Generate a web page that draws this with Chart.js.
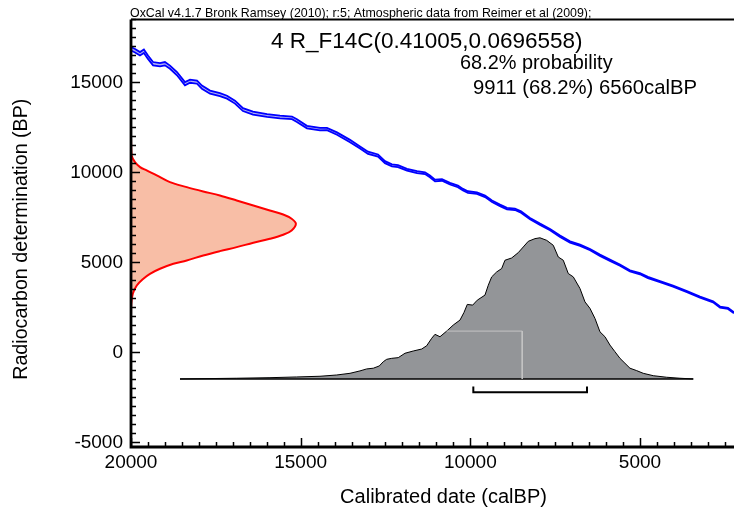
<!DOCTYPE html>
<html>
<head>
<meta charset="utf-8">
<script src="https://cdn.jsdelivr.net/npm/chart.js@4/dist/chart.umd.min.js"></script>
<style>
  html, body { margin: 0; padding: 0; overflow: hidden; background: #fff; }
  canvas { display: block; }
</style>
</head>
<body>
<canvas id="plot" width="756" height="513"></canvas>
<script>
// IntCal09 atmospheric calibration curve (calBP -> 14C BP, 1 sigma)
const curveCal = [20000, 19880, 19735, 19620, 19500, 19350, 19145, 19000, 18850, 18645,
  18410, 18260, 18055, 17910, 17670, 17380, 17170, 16935, 16700, 16405,
  15990, 15610, 15255, 15110, 14815, 14430, 14225, 13930, 13545, 13250,
  13015, 12720, 12515, 12310, 12130, 11865, 11570, 11335, 11190, 11040,
  10835, 10600, 10365, 10215, 10070, 9805, 9565, 9360, 9125, 8920,
  8685, 8505, 8240, 7945, 7650, 7355, 7060, 6765, 6470, 6180,
  5885, 5590, 5295, 5000, 4765, 4410, 4025, 3615, 3230, 2845,
  2640, 2405, 2230];
const curveBP = [16870, 16760, 16590, 16730, 16400, 16040, 15980, 16040, 15845, 15485,
  14930, 15070, 15015, 14735, 14460, 14320, 14180, 13905, 13490, 13295,
  13160, 13075, 13030, 12880, 12520, 12410, 12410, 12160, 11745, 11385,
  11090, 10940, 10570, 10390, 10350, 10150, 10015, 9960, 9780, 9555,
  9585, 9375, 9225, 9040, 8910, 8855, 8670, 8395, 8170, 7990,
  7950, 7800, 7435, 7120, 6825, 6455, 6140, 5955, 5715, 5400,
  5125, 4850, 4530, 4375, 4165, 3935, 3685, 3380, 3075, 2815,
  2520, 2450, 2205];
const curveSigma = [95, 95, 95, 95, 95, 92, 92, 92, 90, 90,
  90, 88, 88, 86, 84, 84, 82, 82, 80, 80,
  78, 76, 74, 74, 70, 70, 68, 66, 64, 62,
  60, 58, 56, 55, 54, 52, 52, 50, 50, 48,
  46, 46, 45, 44, 44, 42, 42, 41, 40, 40,
  39, 39, 38, 38, 37, 37, 36, 36, 35, 35,
  34, 34, 34, 33, 33, 32, 32, 32, 31, 31,
  30, 30, 30];

// Radiocarbon likelihood, R_F14C(0.41005, 0.0696558), relative probability by 14C age
const likelihoodBP = [11950, 10945, 10570, 10295, 10110, 9835, 9460, 9185, 8945, 8720,
  8445, 8165, 7890, 7665, 7430, 7150, 6780, 6540, 6315, 6095,
  5850, 5630, 5390, 5110, 4930, 4650, 4370, 4095, 3720, 3260,
  2720, 2000];
const likelihoodP = [0, 0.004, 0.024, 0.055, 0.095, 0.156, 0.236, 0.338, 0.438, 0.539,
  0.641, 0.742, 0.842, 0.923, 0.974, 1.0, 0.974, 0.923, 0.842, 0.742,
  0.641, 0.539, 0.438, 0.338, 0.257, 0.176, 0.115, 0.075, 0.035, 0.011,
  0.002, 0];

// Calibrated probability distribution (calBP, relative probability)
const posteriorCal = [18556, 16885, 15904, 15117, 14430, 13938, 13546, 13251, 13054, 12859,
  12683, 12565, 12465, 12317, 12123, 11925, 11681, 11433, 11286, 11138,
  11041, 10894, 10696, 10502, 10304, 10186, 10089, 9930, 9795, 9568,
  9470, 9370, 9223, 9076, 8978, 8781, 8586, 8439, 8292, 8094,
  7947, 7749, 7555, 7407, 7260, 7113, 6965, 6768, 6621, 6473,
  6326, 6179, 6031, 5884, 5737, 5589, 5442, 5294, 5097, 4903,
  4608, 4213, 3821, 3429];
const posteriorP = [0, 0.005, 0.009, 0.014, 0.019, 0.028, 0.040, 0.057, 0.071, 0.076,
  0.092, 0.122, 0.139, 0.146, 0.151, 0.182, 0.198, 0.212, 0.235, 0.288,
  0.316, 0.299, 0.339, 0.382, 0.417, 0.471, 0.528, 0.523, 0.558, 0.594,
  0.664, 0.723, 0.758, 0.782, 0.841, 0.857, 0.895, 0.935, 0.975, 0.994,
  1.0, 0.982, 0.947, 0.864, 0.841, 0.747, 0.723, 0.641, 0.546, 0.500,
  0.429, 0.334, 0.299, 0.240, 0.193, 0.146, 0.111, 0.076, 0.059, 0.040,
  0.023, 0.012, 0.005, 0];

// 68.2% highest probability range (calBP) and central marker
const rangeFrom = 9911;
const rangeTo = 6560;
const rangeProb = 68.2;
const markerCal = [10696, 8470, 8470];
const markerP = [0.339, 0.339, 0];

// Axis ticks
const xTickValues = [20000, 15000, 10000, 5000];
const yTickValues = [-5000, 0, 5000, 10000, 15000];
const minorStep = 500;

// Texts
const caption = 'OxCal v4.1.7 Bronk Ramsey (2010); r:5; Atmospheric data from Reimer et al (2009);';
const sampleName = '4 R_F14C(0.41005,0.0696558)';
const xTitle = 'Calibrated date (calBP)';
const yTitle = 'Radiocarbon determination (BP)';

// Axis ranges and where the two density plots sit on the main axes
const X_MIN = 1580, X_MAX = 20000;
const Y_MIN = -5250, Y_MAX = 18500;
const LIKE_PEAK_CAL = 15140;               // calBP reached by the likelihood peak
const POST_BASE_BP = -1470, POST_PEAK_BP = 6370; // BP levels of posterior baseline / peak

const FONT = '"Liberation Sans", Arial, Helvetica, sans-serif';

const pts = (xs, ys) => xs.map((v, i) => ({ x: v, y: ys[i] }));

const upper = curveCal.map((c, i) => ({ x: c, y: curveBP[i] + curveSigma[i] }));
const lower = curveCal.map((c, i) => ({ x: c, y: curveBP[i] - curveSigma[i] }));

const postSpan = POST_PEAK_BP - POST_BASE_BP;

const frame = {
  id: 'frame',
  afterDatasetsDraw(chart) {
    const { ctx, chartArea: a, scales: { x, y } } = chart;
    ctx.save();
    ctx.strokeStyle = '#000';
    ctx.lineWidth = 1.5;
    ctx.beginPath();
    for (let v = Math.ceil(x.min / minorStep) * minorStep; v <= x.max; v += minorStep) {
      const px = Math.round(x.getPixelForValue(v)) + 0.5;
      const len = xTickValues.includes(v) ? 9 : 5;
      ctx.moveTo(px, a.bottom); ctx.lineTo(px, a.bottom - len);
    }
    for (let v = Math.ceil(y.min / minorStep) * minorStep; v <= y.max; v += minorStep) {
      const py = Math.round(y.getPixelForValue(v)) + 0.5;
      const len = yTickValues.includes(v) ? 9 : 5;
      ctx.moveTo(a.left, py); ctx.lineTo(a.left + len, py);
    }
    ctx.stroke();
    ctx.lineWidth = 2.8;
    ctx.beginPath();
    ctx.moveTo(a.left, a.top); ctx.lineTo(a.left, a.bottom);
    ctx.moveTo(a.left - 1.4, a.bottom); ctx.lineTo(a.right, a.bottom);
    ctx.stroke();
    ctx.lineWidth = 2;
    ctx.beginPath();
    ctx.moveTo(a.left, a.top); ctx.lineTo(a.right, a.top);
    ctx.stroke();
    ctx.restore();
  }
};

const notes = {
  id: 'notes',
  afterDraw(chart) {
    const { ctx, chartArea: a } = chart;
    ctx.save();
    ctx.fillStyle = '#000';
    ctx.textAlign = 'left';
    ctx.textBaseline = 'alphabetic';
    ctx.font = '12.4px ' + FONT;
    ctx.fillText(caption, 130, 17);
    ctx.font = '22.5px ' + FONT;
    ctx.fillText(sampleName, 271, 48);
    ctx.font = '19.9px ' + FONT;
    ctx.fillText(rangeProb.toFixed(1) + '% probability', 460, 69);
    ctx.font = '20.3px ' + FONT;
    ctx.fillText(rangeFrom + ' (' + rangeProb.toFixed(1) + '%) ' + rangeTo + 'calBP', 473, 94);
    // vertical axis title
    ctx.translate(22, (a.top + a.bottom) / 2 + 6);
    ctx.rotate(-Math.PI / 2);
    ctx.textAlign = 'center';
    ctx.textBaseline = 'middle';
    ctx.font = '19.7px ' + FONT;
    ctx.fillText(yTitle, 0, 0);
    ctx.restore();
  }
};

new Chart(document.getElementById('plot'), {
  type: 'line',
  data: {
    datasets: [
      { // 68.2% range bracket
        data: [{ x: rangeFrom, y: -0.053 }, { x: rangeFrom, y: -0.095 }, { x: rangeTo, y: -0.095 }, { x: rangeTo, y: -0.053 }],
        xAxisID: 'x', yAxisID: 'yp', borderColor: '#000', borderWidth: 2, fill: false
      },
      { // central marker
        data: pts(markerCal, markerP),
        xAxisID: 'x', yAxisID: 'yp', borderColor: '#c4c4c4', borderWidth: 1, fill: false
      },
      { // posterior baseline
        data: [{ x: posteriorCal[0], y: 0 }, { x: posteriorCal[posteriorCal.length - 1], y: 0 }],
        xAxisID: 'x', yAxisID: 'yp', borderColor: '#000', borderWidth: 1.5, fill: false
      },
      { // calibrated distribution
        data: pts(posteriorCal, posteriorP),
        xAxisID: 'x', yAxisID: 'yp', borderColor: '#000', borderWidth: 1,
        backgroundColor: '#939598', fill: 'origin'
      },
      { // radiocarbon likelihood
        data: likelihoodBP.map((b, i) => ({ x: likelihoodP[i], y: b })),
        indexAxis: 'y', xAxisID: 'xl', yAxisID: 'y', tension: 0.35,
        borderColor: '#ff0000', borderWidth: 2, backgroundColor: '#f8bea6', fill: 'origin'
      },
      { // calibration curve, +1 sigma
        data: upper, xAxisID: 'x', yAxisID: 'y',
        borderColor: '#0000ff', borderWidth: 1.8, fill: false
      },
      { // calibration curve, -1 sigma
        data: lower, xAxisID: 'x', yAxisID: 'y',
        borderColor: '#0000ff', borderWidth: 1.8, backgroundColor: '#b0b0f2', fill: '-1'
      }
    ]
  },
  options: {
    responsive: false,
    animation: false,
    events: [],
    elements: { point: { radius: 0 }, line: { tension: 0 } },
    layout: { padding: { top: 19, right: 0, bottom: 0, left: 0 } },
    plugins: { legend: { display: false }, tooltip: { enabled: false } },
    scales: {
      x: {
        type: 'linear', reverse: true, min: X_MIN, max: X_MAX,
        afterBuildTicks: s => { s.ticks = xTickValues.map(v => ({ value: v })); },
        afterFit: s => { s.height = 66; },
        grid: { display: false, drawTicks: false },
        border: { display: false },
        ticks: { color: '#000', padding: 4, autoSkip: false, maxRotation: 0,
                 font: { family: FONT, size: 19 }, callback: v => String(v) },
        title: { display: true, text: xTitle, color: '#000',
                 font: { family: FONT, size: 20 }, padding: { top: 0, bottom: 4 } }
      },
      y: {
        type: 'linear', min: Y_MIN, max: Y_MAX,
        afterBuildTicks: s => { s.ticks = yTickValues.map(v => ({ value: v })); },
        afterFit: s => { s.width = 131; },
        grid: { display: false, drawTicks: false },
        border: { display: false },
        ticks: { color: '#000', padding: 8, autoSkip: false,
                 font: { family: FONT, size: 19 }, callback: v => String(v) }
      },
      xl: {
        type: 'linear', axis: 'x', display: false, min: 0,
        max: (X_MAX - X_MIN) / (X_MAX - LIKE_PEAK_CAL)
      },
      yp: {
        type: 'linear', axis: 'y', display: false,
        min: (Y_MIN - POST_BASE_BP) / postSpan,
        max: (Y_MAX - POST_BASE_BP) / postSpan
      }
    }
  },
  plugins: [frame, notes]
});
</script>
</body>
</html>
